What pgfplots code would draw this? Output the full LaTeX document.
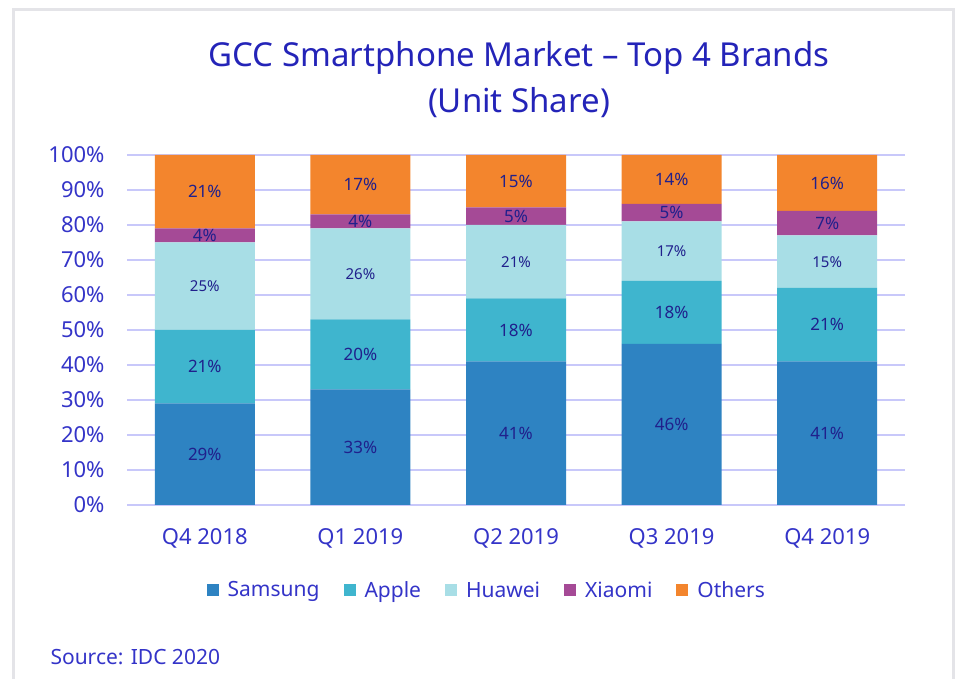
\documentclass[border=0pt]{standalone}
\usepackage{fontspec}
\setmainfont{Noto Sans}
\usepackage{pgfplots}
\usepackage{pgfplotstable}
\pgfplotsset{compat=1.18}
\definecolor{samsung}{RGB}{46,131,194}
\definecolor{apple}{RGB}{63,181,206}
\definecolor{huawei}{RGB}{168,222,230}
\definecolor{xiaomi}{RGB}{165,74,150}
\definecolor{others}{RGB}{243,133,45}
\definecolor{gridc}{RGB}{200,200,250}
\definecolor{titleblue}{RGB}{36,36,184}
\definecolor{tickblue}{RGB}{52,52,200}
\definecolor{labblue}{RGB}{32,32,140}
\definecolor{framegray}{RGB}{228,228,232}
\pgfplotstableread{
x Samsung Apple Huawei Xiaomi Others
0 29 21 25 4 21
1 33 20 26 4 17
2 41 18 21 5 15
3 46 18 17 5 14
4 41 21 15 7 16
}\datatable
\pgfplotsset{
  /pgf/number format/assume math mode=true,
  centerlabels/.style={
    nodes near coords={\pgfmathprintnumber[fixed,precision=0]{\pgfplotspointmeta}\%},
    every node near coord/.append style={anchor=center, text=labblue, font=\fontsize{#1}{#1}\selectfont},
  },
  sqlegend/.style={legend image code/.code={\fill[##1] (0pt,-6pt) rectangle (12pt,6pt);}},
}
\begin{document}
\begin{tikzpicture}[x=1pt,y=1pt]
\path[use as bounding box] (0,0) rectangle (956,679);
\draw[framegray, line width=3pt] (13.5,0) -- (13.5,669) -- (953.5,669) -- (953.5,0);
\node[text=titleblue, font=\fontsize{33}{36}\selectfont] at (519,621) {GCC Smartphone Market – Top 4 Brands};
\node[text=titleblue, font=\fontsize{33}{36}\selectfont] at (519,576) {(Unit Share)};
\node[text=tickblue, font=\fontsize{21}{24}\selectfont, anchor=west] at (47,22) {Source: IDC 2020};
\begin{axis}[
  at={(127pt,174pt)}, anchor=south west, scale only axis,
  width=778pt, height=350pt,
  ybar stacked, bar width=100pt,
  xmin=-0.5, xmax=4.5, ymin=0, ymax=100,
  xtick={0,1,2,3,4},
  xticklabels={Q4 2018,Q1 2019,Q2 2019,Q3 2019,Q4 2019},
  ytick={0,10,...,100},
  yticklabel={\pgfmathprintnumber{\tick}\%},
  axis line style={draw=none},
  major tick length=0pt,
  ymajorgrids, grid style={gridc, line width=1.5pt},
  ticklabel style={text=tickblue, font=\fontsize{22}{24}\selectfont},
  xticklabel style={yshift=-20pt},
  yticklabel style={xshift=-19pt},
  legend style={at={(0.4625,-0.243)}, anchor=center, draw=none, fill=none,
    legend columns=-1, font=\fontsize{21}{24}\selectfont, text=tickblue,
    /tikz/every even column/.append style={column sep=22pt},
    /tikz/every odd column/.append style={column sep=7pt},
    legend cell align=left},
  clip=false,
]
\addplot[fill=samsung, draw=none, centerlabels=17, sqlegend] table[x=x,y=Samsung]{\datatable};
\addplot[fill=apple, draw=none, centerlabels=17, sqlegend] table[x=x,y=Apple]{\datatable};
\addplot[fill=huawei, draw=none, centerlabels=15, sqlegend] table[x=x,y=Huawei]{\datatable};
\addplot[fill=xiaomi, draw=none, centerlabels=17, sqlegend] table[x=x,y=Xiaomi]{\datatable};
\addplot[fill=others, draw=none, centerlabels=17, sqlegend] table[x=x,y=Others]{\datatable};
\legend{Samsung,Apple,Huawei,Xiaomi,Others}
\end{axis}
\end{tikzpicture}
\end{document}
